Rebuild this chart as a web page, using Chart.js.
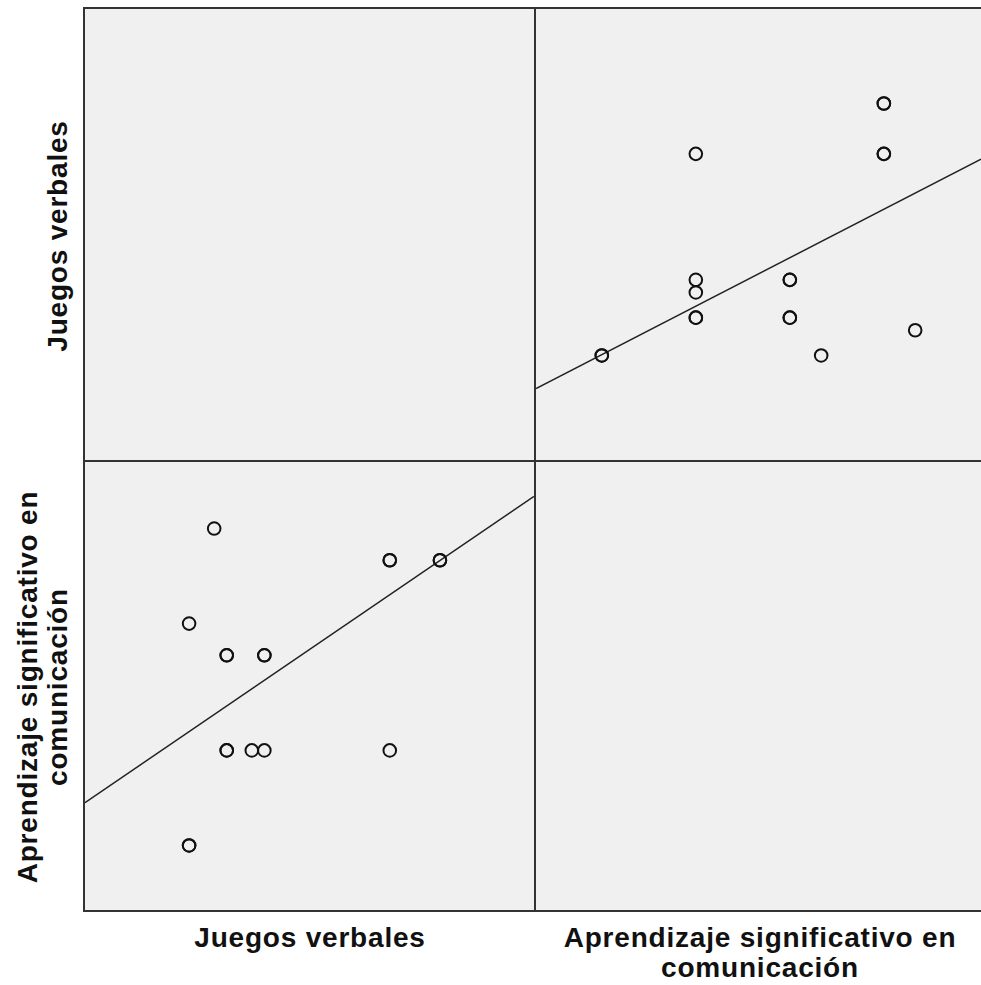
<!DOCTYPE html>
<html>
<head>
<meta charset="utf-8">
<script src="https://cdn.jsdelivr.net/npm/chart.js@4"></script>
<style>
  body { margin: 0; background: #fff; width: 981px; height: 985px; overflow: hidden; font-family: "Liberation Sans", Arial, sans-serif; }
  #matriz { position: absolute; left: 83px; top: 7px; width: 898px; height: 905px; border: 2px solid #333; border-right: none; box-sizing: border-box; background: #f0f0f0; }
  .panel { position: absolute; }
  .vline { position: absolute; left: 449px; top: 0; width: 2px; height: 100%; background: #333; }
  .hline { position: absolute; top: 451px; left: 0; height: 2px; width: 100%; background: #333; }
  .lbl { position: absolute; font-weight: bold; font-size: 28px; letter-spacing: 0.8px; color: #111; text-align: center; line-height: 30px; white-space: nowrap; }
  .rot { transform: translate(-50%, -50%) rotate(-90deg); }
  .hor { transform: translate(-50%, 0); }
</style>
</head>
<body>
<div id="matriz">
  <div class="panel" style="left:0;top:0;width:449px;height:451px"><canvas id="c11" width="449" height="451"></canvas></div>
  <div class="panel" style="left:451px;top:0;width:445px;height:451px"><canvas id="c12" width="445" height="451"></canvas></div>
  <div class="panel" style="left:0;top:453px;width:449px;height:450px"><canvas id="c21" width="449" height="450"></canvas></div>
  <div class="panel" style="left:451px;top:453px;width:445px;height:450px"><canvas id="c22" width="445" height="450"></canvas></div>
  <div class="vline"></div>
  <div class="hline"></div>
</div>

<div class="lbl rot" style="left:58px;top:236px">Juegos verbales</div>
<div class="lbl rot" style="left:43px;top:687px">Aprendizaje significativo en<br>comunicación</div>
<div class="lbl hor" style="left:310px;top:923px">Juegos verbales</div>
<div class="lbl hor" style="left:760px;top:923px">Aprendizaje significativo en<br>comunicación</div>

<script>
// casos (una posicion por caso)
var juegosVerbales = [30, 30, 30, 32, 33, 33, 33, 33, 35, 36, 36, 36, 46, 46, 46, 50, 50];
var aprendizaje    = [20, 20, 27, 30, 26, 26, 23, 23, 23, 26, 26, 23, 29, 29, 23, 29, 29];

// rango de cada variable en la matriz
var rangoJuegos = [21.7, 57.5];
var rangoAprend = [17.9, 32.1];

// recta de ajuste [intercepto, pendiente]
var ajusteJuegosSobreAprend = [4.42, 1.282];
var ajusteAprendSobreJuegos = [15.49, 0.270];

function puntos(xs, ys) {
    var out = [];
    for (var i = 0; i < xs.length; i++) out.push({ x: xs[i], y: ys[i] });
    return out;
}

function recta(ajuste, rango) {
    return [
        { x: rango[0], y: ajuste[0] + ajuste[1] * rango[0] },
        { x: rango[1], y: ajuste[0] + ajuste[1] * rango[1] }
    ];
}

function crearPanel(id, rangoX, rangoY, datos, linea) {
    var datasets = [];
    if (datos) {
        datasets.push({
            type: 'scatter',
            data: datos,
            pointStyle: 'circle',
            pointRadius: 6.3,
            borderColor: '#111',
            borderWidth: 2,
            backgroundColor: 'rgba(0,0,0,0)'
        });
    }
    if (linea) {
        datasets.push({
            type: 'line',
            data: linea,
            borderColor: '#222',
            borderWidth: 1.5,
            pointRadius: 0,
            fill: false
        });
    }
    var ctx = document.getElementById(id).getContext('2d');
    return new Chart(ctx, {
        type: 'scatter',
        data: { datasets: datasets },
        options: {
            responsive: false,
            animation: false,
            layout: { padding: 0, autoPadding: false },
            plugins: { legend: { display: false }, tooltip: { enabled: false } },
            scales: {
                x: { type: 'linear', display: false, min: rangoX[0], max: rangoX[1] },
                y: { type: 'linear', display: false, min: rangoY[0], max: rangoY[1] }
            }
        }
    });
}

crearPanel('c11', rangoJuegos, rangoJuegos, null, null);
crearPanel('c12', rangoAprend, rangoJuegos,
    puntos(aprendizaje, juegosVerbales), recta(ajusteJuegosSobreAprend, rangoAprend));
crearPanel('c21', rangoJuegos, rangoAprend,
    puntos(juegosVerbales, aprendizaje), recta(ajusteAprendSobreJuegos, rangoJuegos));
crearPanel('c22', rangoAprend, rangoAprend, null, null);
</script>
</body>
</html>
